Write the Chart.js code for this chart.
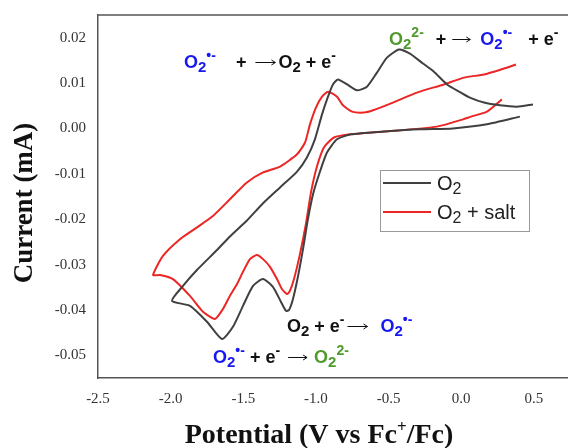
<!DOCTYPE html>
<html>
<head>
<meta charset="utf-8">
<script src="https://cdn.jsdelivr.net/npm/chart.js@4.4.0/dist/chart.umd.min.js"></script>
<style>
  html, body { margin: 0; padding: 0; background: #fff; }
  canvas { display: block; }
</style>
</head>
<body>
<canvas id="cv-chart" width="568" height="448"></canvas>
<script>
// cyclic voltammograms (V vs Fc+/Fc, mA)
const o2Potential = [0.404, 0.177, -0.057, -0.284, -0.532, -0.759, -0.855, -0.924, -0.972, -1.020, -1.055, -1.089, -1.124, -1.158, -1.185, -1.206, -1.241, -1.296, -1.364, -1.433, -1.502, -1.571, -1.647, -1.750, -1.867, -1.991,
    -1.915, -1.819, -1.681, -1.592, -1.475, -1.364, -1.247, -1.130, -1.062, -1.007, -0.958, -0.917, -0.883, -0.848, -0.786, -0.717, -0.649, -0.580, -0.511, -0.428, -0.353, -0.263, -0.188, -0.098, -0.002, 0.060, 0.157, 0.267, 0.384, 0.494];
const o2Current = [0.0026, 0.0009, 0.0000, -0.0002, -0.0007, -0.0013, -0.0024, -0.0053, -0.0095, -0.0145, -0.0200, -0.0266, -0.0327, -0.0376, -0.0400, -0.0402, -0.0382, -0.0349, -0.0332, -0.0347, -0.0391, -0.0437, -0.0464, -0.0426, -0.0391, -0.0380,
    -0.0347, -0.0312, -0.0268, -0.0238, -0.0203, -0.0165, -0.0130, -0.0095, -0.0064, -0.0024, 0.0031, 0.0070, 0.0097, 0.0108, 0.0097, 0.0084, 0.0092, 0.0123, 0.0156, 0.0174, 0.0165, 0.0143, 0.0125, 0.0097, 0.0079, 0.0068, 0.0057, 0.0051, 0.0048, 0.0053];

const saltPotential = [0.280, 0.177, 0.067, 0.012, -0.167, -0.532, -0.759, -0.876, -0.945, -0.993, -1.034, -1.068, -1.110, -1.151, -1.179, -1.199, -1.234, -1.268, -1.316, -1.364, -1.406, -1.454, -1.502, -1.543, -1.592, -1.640, -1.695, -1.777, -1.867, -1.984, -2.073, -2.121,
    -2.053, -1.936, -1.819, -1.709, -1.592, -1.475, -1.364, -1.247, -1.130, -1.075, -1.041, -1.000, -0.958, -0.917, -0.855, -0.814, -0.752, -0.669, -0.607, -0.470, -0.305, -0.119, 0.019, 0.157, 0.274, 0.377];
const saltCurrent = [0.0064, 0.0037, 0.0026, 0.0020, 0.0004, -0.0007, -0.0013, -0.0020, -0.0042, -0.0084, -0.0141, -0.0209, -0.0277, -0.0332, -0.0358, -0.0365, -0.0354, -0.0332, -0.0305, -0.0288, -0.0279, -0.0288, -0.0316, -0.0343, -0.0369, -0.0398, -0.0420, -0.0404, -0.0369, -0.0332, -0.0323, -0.0323,
    -0.0281, -0.0244, -0.0218, -0.0193, -0.0156, -0.0119, -0.0097, -0.0084, -0.0057, -0.0031, 0.0009, 0.0046, 0.0070, 0.0081, 0.0070, 0.0051, 0.0037, 0.0035, 0.0040, 0.0057, 0.0079, 0.0097, 0.0112, 0.0119, 0.0130, 0.0141];

const potentialTicks = [-2.5, -2.0, -1.5, -1.0, -0.5, 0.0, 0.5];
const currentTicks = [-0.05, -0.04, -0.03, -0.02, -0.01, 0.00, 0.01, 0.02];

const BLUE = '#1818f0';
const GREEN = '#4f9a2c';
const INK = '#111';

function zip(xs, ys) {
    return xs.map((x, i) => ({ x: x, y: ys[i] }));
}

// text with sub/superscripts, drawn run by run; 'gap' just moves on, 'arrow' is a thin reaction arrow
function drawRuns(ctx, x, y, runs, size) {
    runs.forEach(r => {
        const text = r[0], color = r[1], kind = r[2];
        if (kind === 'gap') { x += r[3]; return; }
        if (kind === 'arrow') {
            const len = r[3], ay = y - 5.5;
            ctx.strokeStyle = color;
            ctx.lineWidth = 1;
            ctx.beginPath();
            ctx.moveTo(x, ay);
            ctx.lineTo(x + len, ay);
            ctx.moveTo(x + len - 4, ay - 2.5);
            ctx.lineTo(x + len, ay);
            ctx.lineTo(x + len - 4, ay + 2.5);
            ctx.stroke();
            x += len;
            return;
        }
        let font = 'bold ' + size + 'px "Liberation Sans"';
        let dy = 0;
        if (kind === 'sub') { font = 'bold ' + Math.round(size * 0.85) + 'px "Liberation Sans"'; dy = 4; }
        if (kind === 'sup') { font = 'bold ' + Math.round(size * 0.75) + 'px "Liberation Sans"'; dy = -8; }
        ctx.font = font;
        ctx.fillStyle = color;
        ctx.fillText(text, x, y + dy);
        x += ctx.measureText(text).width;
    });
}

const annotations = [
    { x: 184, y: 68, runs: [['O', BLUE], ['2', BLUE, 'sub'], ['\u2022-', BLUE, 'sup'], ['', '', 'gap', 20], ['+', INK], ['', '', 'gap', 9], ['', INK, 'arrow', 20], ['', '', 'gap', 3], ['O', INK], ['2', INK, 'sub'], [' + e', INK], ['-', INK, 'sup']] },
    { x: 389, y: 45, runs: [['O', GREEN], ['2', GREEN, 'sub'], ['2-', GREEN, 'sup'], ['', '', 'gap', 12], ['+', INK], ['', '', 'gap', 6], ['', INK, 'arrow', 18], ['', '', 'gap', 10], ['O', BLUE], ['2', BLUE, 'sub'], ['\u2022-', BLUE, 'sup'], ['', '', 'gap', 16], ['+ e', INK], ['-', INK, 'sup']] },
    { x: 287, y: 332, runs: [['O', INK], ['2', INK, 'sub'], [' + e', INK], ['-', INK, 'sup'], ['', '', 'gap', 3], ['', INK, 'arrow', 20], ['', '', 'gap', 13], ['O', BLUE], ['2', BLUE, 'sub'], ['\u2022-', BLUE, 'sup']] },
    { x: 213, y: 363, runs: [['O', BLUE], ['2', BLUE, 'sub'], ['\u2022-', BLUE, 'sup'], [' + e', INK], ['-', INK, 'sup'], ['', '', 'gap', 8], ['', INK, 'arrow', 19], ['', '', 'gap', 7], ['O', GREEN], ['2', GREEN, 'sub'], ['2-', GREEN, 'sup']] }
];

const decorPlugin = {
    id: 'decor',
    afterDraw(chart) {
        const ctx = chart.ctx;
        const a = chart.chartArea;
        ctx.save();

        // top frame line
        ctx.strokeStyle = '#555';
        ctx.lineWidth = 1.5;
        ctx.beginPath();
        ctx.moveTo(a.left, a.top);
        ctx.lineTo(a.right, a.top);
        ctx.stroke();

        // reaction labels
        ctx.textBaseline = 'alphabetic';
        ctx.textAlign = 'left';
        annotations.forEach(an => drawRuns(ctx, an.x, an.y, an.runs, 18));

        // legend box
        ctx.strokeStyle = '#999';
        ctx.lineWidth = 1;
        ctx.fillStyle = '#fff';
        ctx.fillRect(380, 170, 149, 61);
        ctx.strokeRect(380.5, 170.5, 149, 61);
        const rows = [
            { ds: chart.data.datasets[0], y: 183, tail: '' },
            { ds: chart.data.datasets[1], y: 212, tail: ' + salt' }
        ];
        rows.forEach(row => {
            ctx.strokeStyle = row.ds.borderColor;
            ctx.lineWidth = 2;
            ctx.beginPath();
            ctx.moveTo(383, row.y);
            ctx.lineTo(431, row.y);
            ctx.stroke();
            ctx.fillStyle = '#222';
            ctx.font = '20px "Liberation Sans"';
            let x = 437;
            ctx.fillText('O', x, row.y + 7);
            x += ctx.measureText('O').width;
            ctx.font = '16px "Liberation Sans"';
            ctx.fillText('2', x, row.y + 11);
            x += ctx.measureText('2').width;
            ctx.font = '20px "Liberation Sans"';
            ctx.fillText(row.tail, x, row.y + 7);
        });

        // axis titles
        ctx.fillStyle = '#111';
        ctx.font = 'bold 27px "Liberation Serif"';
        ctx.save();
        ctx.translate(25, 203);
        ctx.rotate(-Math.PI / 2);
        ctx.textAlign = 'center';
        ctx.textBaseline = 'middle';
        ctx.fillText('Current (mA)', 0, 0);
        ctx.restore();

        const parts = [['Potential (V vs Fc', 28, 0], ['+', 17, -11], ['/Fc)', 28, 0]];
        let total = 0;
        parts.forEach(p => { ctx.font = 'bold ' + p[1] + 'px "Liberation Serif"'; total += ctx.measureText(p[0]).width; });
        let tx = 319 - total / 2;
        parts.forEach(p => {
            ctx.font = 'bold ' + p[1] + 'px "Liberation Serif"';
            ctx.fillText(p[0], tx, 443 + p[2]);
            tx += ctx.measureText(p[0]).width;
        });
        ctx.restore();
    }
};

const ctx = document.getElementById('cv-chart').getContext('2d');
const myChart = new Chart(ctx, {
    type: 'scatter',
    data: {
        datasets: [{
                label: 'O2',
                data: zip(o2Potential, o2Current),
                borderColor: '#404040',
                borderWidth: 2,
                showLine: true,
                pointRadius: 0,
                tension: 0.2
            }, {
                label: 'O2 + salt',
                data: zip(saltPotential, saltCurrent),
                borderColor: '#ec2525',
                borderWidth: 2,
                showLine: true,
                pointRadius: 0,
                tension: 0.2
            }]
    },
    options: {
        responsive: false,
        animation: false,
        devicePixelRatio: 1,
        layout: { padding: { left: 0, top: 15, right: 0, bottom: 0 } },
        plugins: {
            legend: { display: false },
            tooltip: { enabled: false }
        },
        scales: {
            x: {
                type: 'linear',
                min: -2.5,
                max: 0.735,
                afterBuildTicks: scale => { scale.ticks = potentialTicks.map(v => ({ value: v })); },
                afterFit: scale => { scale.height = 70; scale.paddingLeft = 0; scale.paddingRight = 0; },
                grid: { display: false, drawTicks: false, tickLength: 0 },
                border: { display: true, color: '#555', width: 1.5 },
                ticks: {
                    autoSkip: false,
                    maxRotation: 0,
                    padding: 12,
                    color: '#333',
                    font: { family: 'Liberation Serif', size: 15 },
                    callback: v => v.toFixed(1)
                }
            },
            y: {
                type: 'linear',
                min: -0.055,
                max: 0.025,
                afterBuildTicks: scale => { scale.ticks = currentTicks.map(v => ({ value: v })); },
                afterFit: scale => { scale.width = 98; scale.paddingTop = 0; scale.paddingBottom = 0; },
                grid: { display: false, drawTicks: false, tickLength: 0 },
                border: { display: true, color: '#555', width: 1.5 },
                ticks: {
                    autoSkip: false,
                    padding: 12,
                    color: '#333',
                    font: { family: 'Liberation Serif', size: 15 },
                    callback: v => v.toFixed(2)
                }
            }
        }
    },
    plugins: [decorPlugin]
});
</script>
</body>
</html>
